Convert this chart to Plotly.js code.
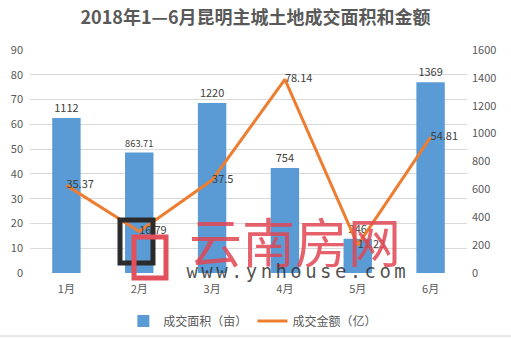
<!DOCTYPE html>
<html><head><meta charset="utf-8">
<script src="https://cdn.plot.ly/plotly-3.0.1.min.js"></script>
<style>html,body{margin:0;padding:0;background:#fff;}#c{width:511px;height:339px;}</style>
</head><body><div id="c"></div>
<script>
const months = ['1月','2月','3月','4月','5月','6月'];
const areaMu = [1112, 863.71, 1220, 754, 246, 1369];
const amountYi = [35.37, 16.79, 37.5, 78.14, 11.23, 54.81];
const areaLabels = ['1112','863.71','1220','754','246','1369'];
const amountLabels = ['35.37','16.79','37.5','78.14','11.23','54.81'];
const leftTicks = [0,10,20,30,40,50,60,70,80,90];
const rightTicks = [0,200,400,600,800,1000,1200,1400,1600];

const F = '"Noto Sans CJK SC", "Microsoft YaHei", sans-serif';
const traces = [
  {type:'bar', name:'成交面积（亩）', x:months, y:areaMu, yaxis:'y',
   marker:{color:'#5B9BD5'}, text:areaLabels, textposition:'outside', cliponaxis:false,
   textfont:{size:11, color:'#404040', family:F}, hoverinfo:'skip'},
  {type:'scatter', mode:'lines+text', name:'成交金额（亿）', x:months, y:amountYi, yaxis:'y2',
   line:{color:'#ED7D31', width:3}, text:amountLabels, textposition:'middle right', cliponaxis:false,
   textfont:{size:11, color:'#404040', family:F}}
];
const px = v => (v-30)/437, py = v => (273-v)/223;
const layout = {
  width:511, height:339, margin:{l:30, r:44, t:50, b:66, autoexpand:false},
  paper_bgcolor:'#fff', plot_bgcolor:'#fff', showlegend:true, bargap:0.61,
  font:{family:F, color:'#595959', size:11},
  title:{text:'<b>2018年1—6月昆明主城土地成交面积和金额</b>', x:0.5, xanchor:'center', y:0.947, yanchor:'middle',
         font:{size:18, color:'#595959', family:F}},
  xaxis:{type:'category', showgrid:false, zeroline:false, showline:false, ticks:'',
         tickfont:{size:11, color:'#595959'}, ticklabelstandoff:8},
  yaxis:{range:[0,1600], tickvals:rightTicks, side:'right', showgrid:false, zeroline:false,
         showline:false, tickfont:{size:11, color:'#595959'}, ticklabelstandoff:4},
  yaxis2:{range:[0,90], tickvals:leftTicks, overlaying:'y', side:'left', showgrid:true, gridcolor:'#d9d9d9',
          gridwidth:1, zeroline:false, showline:false, tickfont:{size:11, color:'#595959'}, ticklabelstandoff:6},
  legend:{orientation:'h', x:0.51, xanchor:'center', y:-0.215, yanchor:'middle', itemwidth:30,
          font:{size:12, color:'#595959'}, traceorder:'normal'},
  shapes:[
    {type:'rect', xref:'paper', yref:'paper', x0:px(120), x1:px(153), y0:py(220), y1:py(263),
     line:{color:'#2b2b2b', width:5}, layer:'above'},
    {type:'rect', xref:'paper', yref:'paper', x0:px(134), x1:px(166), y0:py(237), y1:py(278),
     line:{color:'#e2505c', width:5}, layer:'above'},
    {type:'line', xref:'paper', yref:'paper', x0:px(0), x1:px(511), y0:py(336), y1:py(336),
     line:{color:'#d0d0d0', width:1}}
  ],
  annotations:[
    {text:'云南房网', xref:'paper', yref:'paper', x:px(295), y:py(240), xanchor:'center', yanchor:'middle',
     showarrow:false, font:{size:53, color:'rgba(224,70,84,0.85)', family:F}},
    {text:'www.ynhouse.com', xref:'paper', yref:'paper', x:px(298), y:py(271), xanchor:'center', yanchor:'middle',
     showarrow:false, font:{size:19, color:'rgba(50,50,50,0.85)', family:'"DejaVu Sans Mono", monospace'}}
  ]
};
Plotly.newPlot('c', traces, layout, {displayModeBar:false, staticPlot:true}).then(function(){
  document.querySelectorAll('.annotation-text').forEach(function(t){
    if (t.textContent.indexOf('www') === 0) { t.style.letterSpacing = '3.4px'; }
  });
});
</script></body></html>
